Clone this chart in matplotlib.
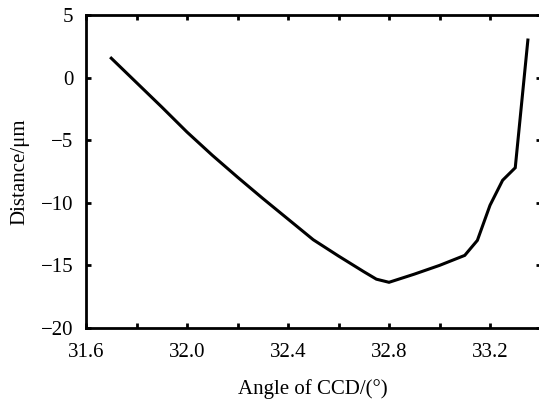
import numpy as np
import matplotlib.pyplot as plt

# angle of CCD (deg) vs. distance (um)
angle = [31.7, 31.8, 31.9, 32.0, 32.1, 32.2, 32.3, 32.4, 32.5, 32.6, 32.7,
         32.75, 32.8, 32.9, 33.0, 33.1, 33.15, 33.2, 33.25, 33.3, 33.35]
distance = [1.55, -0.4, -2.35, -4.35, -6.2, -7.95, -9.65, -11.3, -12.95, -14.25, -15.5,
            -16.1, -16.35, -15.7, -15.0, -14.2, -13.0, -10.2, -8.2, -7.2, 3.0]

xticks = [31.6, 31.8, 32.0, 32.2, 32.4, 32.6, 32.8, 33.0, 33.2]
xlabels = ['31.6', '', '32.0', '', '32.4', '', '32.8', '', '33.2']
yticks = [-20, -15, -10, -5, 0, 5]

plt.rcParams['font.family'] = ['Liberation Serif', 'DejaVu Serif']

fig = plt.figure(figsize=(5.39, 3.99), dpi=100)
ax = fig.add_axes([86/539, 71/399, 454.5/539, 313/399])

ax.plot(angle, distance, color='k', lw=2.2, solid_joinstyle='miter')

ax.set_xlim(31.6, 33.4)
ax.set_ylim(-20, 5)
ax.set_xticks(xticks)
ax.set_xticklabels(xlabels)
ax.set_yticks(yticks)
ax.set_yticklabels(['\u221220', '\u221215', '\u221210', '\u22125', '0', '5'])

for s in ax.spines.values():
    s.set_linewidth(2.0)
ax.tick_params(direction='in', length=3.5, width=2.0, top=True, right=True,
               labelsize=15)
ax.tick_params(axis='x', pad=11)
ax.tick_params(axis='y', pad=9)

ax.set_xlabel('Angle of CCD/(\u00b0)', fontsize=15, labelpad=12)
ax.set_ylabel('Distance/\u03bcm', fontsize=15, labelpad=8)

fig.savefig('out.png', dpi=100)
